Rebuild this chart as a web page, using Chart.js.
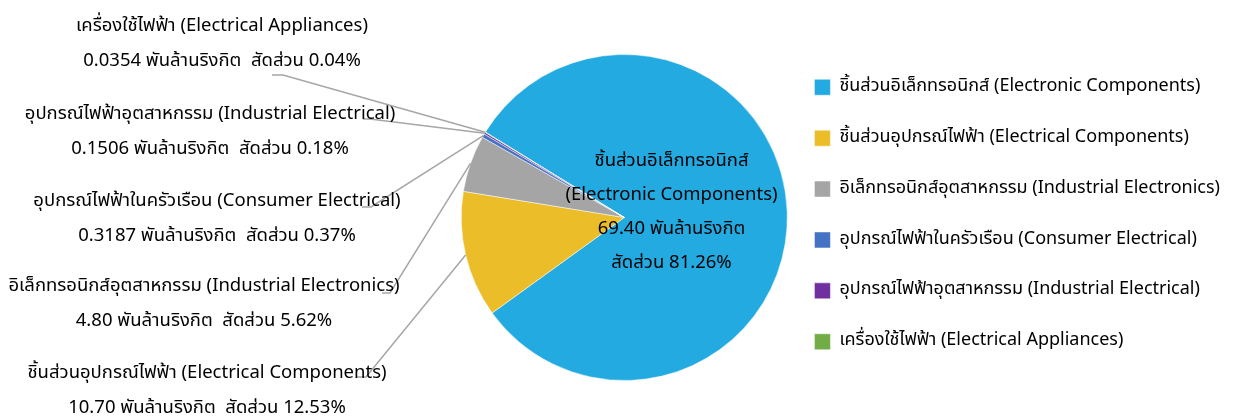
<!DOCTYPE html>
<html>
<head>
<meta charset="utf-8">
<script src="https://cdn.jsdelivr.net/npm/chart.js@4.4.1/dist/chart.umd.min.js"></script>
<style>
  html, body { margin: 0; padding: 0; background: #fff; }
  #wrap { width: 1240px; height: 418px; }
</style>
</head>
<body>
<div id="wrap"><canvas id="chart"></canvas></div>
<script>
// export value by product group, billion ringgit
const categories = [
  'ชิ้นส่วนอิเล็กทรอนิกส์ (Electronic Components)',
  'ชิ้นส่วนอุปกรณ์ไฟฟ้า (Electrical Components)',
  'อิเล็กทรอนิกส์อุตสาหกรรม (Industrial Electronics)',
  'อุปกรณ์ไฟฟ้าในครัวเรือน (Consumer Electrical)',
  'อุปกรณ์ไฟฟ้าอุตสาหกรรม (Industrial Electrical)',
  'เครื่องใช้ไฟฟ้า (Electrical Appliances)'
]
const values = [69.40, 10.70, 4.80, 0.3187, 0.1506, 0.0354]
const colors = ['#23AAE1', '#EBBD28', '#A5A5A5', '#4472C4', '#7030A0', '#70AD47']

const FONT = "'Noto Sans Thai', Tahoma, 'Noto Sans', sans-serif"
const UNIT = 'พันล้านริงกิต'
const SHARE = 'สัดส่วน'

// callout text blocks on the left: centre x, first line y, leader tail [x0, x1, y]
const callouts = [
  null,
  { x: 207, y: 374, tail: [356, 366, 377] },
  { x: 204, y: 287, tail: [382, 390, 293] },
  { x: 217, y: 202, tail: [362, 371, 207] },
  { x: 210, y: 115, tail: [363, 370, 119] },
  { x: 222, y: 27, tail: [272, 283, 75] }
]

const fmtValue = v => v >= 1 ? v.toFixed(2) : v.toFixed(4)

const sliceLabels = {
  id: 'sliceLabels',
  afterDatasetsDraw(chart) {
    const ctx = chart.ctx
    const meta = chart.getDatasetMeta(0)
    const data = chart.data.datasets[0].data
    const total = data.reduce((a, b) => a + b, 0)

    ctx.save()
    ctx.font = '18.5px ' + FONT
    ctx.fillStyle = '#000'
    ctx.textAlign = 'center'
    ctx.textBaseline = 'middle'

    meta.data.forEach((arc, i) => {
      const { x, y, startAngle, endAngle, outerRadius } = arc.getProps(['x', 'y', 'startAngle', 'endAngle', 'outerRadius'], true)
      const mid = (startAngle + endAngle) / 2
      const pct = (data[i] / total * 100).toFixed(2) + '%'
      const name = chart.data.labels[i]

      if (i === 0) {
        // big slice: label sits inside
        const cx = x + Math.cos(mid) * outerRadius * 0.29
        const cy = y + Math.sin(mid) * outerRadius * 0.29
        const open = name.indexOf(' (')
        const lines = [name.slice(0, open), name.slice(open + 1), fmtValue(data[i]) + ' ' + UNIT, SHARE + ' ' + pct]
        lines.forEach((t, k) => ctx.fillText(t, cx, cy - 2 + (k - 1.5) * 34))
        return
      }

      const c = callouts[i]
      const ax = x + Math.cos(mid) * outerRadius
      const ay = y + Math.sin(mid) * outerRadius
      ctx.strokeStyle = '#A6A6A6'
      ctx.lineWidth = 1.5
      ctx.beginPath()
      ctx.moveTo(c.tail[0], c.tail[2])
      ctx.lineTo(c.tail[1], c.tail[2])
      ctx.lineTo(ax, ay)
      ctx.stroke()

      ctx.fillText(name, c.x, c.y)
      ctx.fillText(fmtValue(data[i]) + ' ' + UNIT + '  ' + SHARE + ' ' + pct, c.x, c.y + 35)
    })
    ctx.restore()
  }
}

// shift the legend block a touch left/up after layout
const legendNudge = {
  id: 'legendNudge',
  afterLayout(chart) {
    const lg = chart.legend
    lg.left -= 6; lg.right -= 6
    lg.top -= 3; lg.bottom -= 3
  }
}

new Chart(document.getElementById('chart'), {
  type: 'pie',
  data: {
    labels: categories,
    datasets: [{
      data: values,
      backgroundColor: colors,
      borderColor: '#fff',
      borderWidth: 0.5
    }]
  },
  options: {
    responsive: true,
    maintainAspectRatio: false,
    animation: false,
    rotation: 301.6,
    layout: { padding: { left: 461, top: 48, bottom: 31, right: 4 } },
    plugins: {
      legend: {
        position: 'right',
        maxWidth: 470,
        labels: {
          boxWidth: 16,
          boxHeight: 16,
          padding: 32.9,
          color: '#000',
          font: { family: FONT, size: 18 }
        }
      },
      tooltip: { enabled: false }
    }
  },
  plugins: [sliceLabels, legendNudge]
})
</script>
</body>
</html>
